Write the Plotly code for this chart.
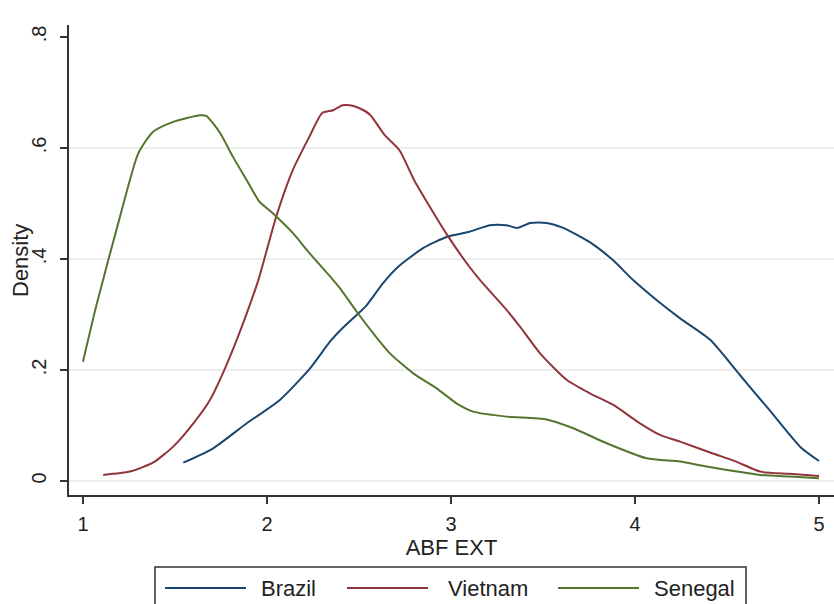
import plotly.graph_objects as go

# Kernel density estimates of ABF EXT by country
brazil_x = [1.545, 1.708, 1.89, 2.07, 2.234, 2.342, 2.40, 2.487, 2.54, 2.63, 2.71, 2.85,
            2.98, 3.10, 3.21, 3.30, 3.36, 3.43, 3.52, 3.61, 3.76, 3.88, 3.99, 4.117,
            4.245, 4.41, 4.57, 4.73, 4.90, 5.0]
brazil_y = [0.033, 0.059, 0.104, 0.146, 0.203, 0.251, 0.272, 0.299, 0.316, 0.356, 0.385, 0.42,
            0.44, 0.449, 0.461, 0.461, 0.456, 0.465, 0.465, 0.456, 0.429, 0.398, 0.362, 0.326,
            0.293, 0.254, 0.191, 0.128, 0.061, 0.036]

vietnam_x = [1.11, 1.255, 1.38, 1.49, 1.60, 1.69, 1.76, 1.835, 1.89, 1.953, 2.05, 2.14,
             2.23, 2.30, 2.36, 2.41, 2.45, 2.50, 2.56, 2.64, 2.72, 2.80, 2.98, 3.10,
             3.158, 3.303, 3.375, 3.484, 3.63, 3.755, 3.882, 4.027, 4.136, 4.245, 4.42,
             4.55, 4.68, 4.84, 5.0]
vietnam_y = [0.011, 0.017, 0.033, 0.062, 0.104, 0.146, 0.194, 0.254, 0.302, 0.362, 0.476, 0.56,
             0.62, 0.663, 0.668, 0.677, 0.677, 0.672, 0.66, 0.623, 0.596, 0.542, 0.443, 0.386,
             0.362, 0.308, 0.278, 0.230, 0.182, 0.158, 0.137, 0.104, 0.083, 0.071, 0.05,
             0.035, 0.017, 0.013, 0.009]

senegal_x = [1.0, 1.074, 1.20, 1.30, 1.38, 1.49, 1.565, 1.636, 1.67, 1.745, 1.815,
             1.89, 1.96, 2.03, 2.14, 2.23, 2.36, 2.397, 2.488, 2.578, 2.668, 2.795, 2.922,
             3.03, 3.121, 3.303, 3.52, 3.665, 3.846, 4.063, 4.245, 4.39, 4.68, 4.84, 5.0]
senegal_y = [0.215, 0.318, 0.475, 0.59, 0.629, 0.647, 0.654, 0.659, 0.658, 0.627, 0.584,
             0.542, 0.503, 0.483, 0.447, 0.411, 0.362, 0.347, 0.305, 0.266, 0.230, 0.194, 0.167,
             0.140, 0.125, 0.116, 0.111, 0.095, 0.068, 0.041, 0.035, 0.026, 0.011, 0.008, 0.005]

series_names = ["Brazil", "Vietnam", "Senegal"]
series_x = [brazil_x, vietnam_x, senegal_x]
series_y = [brazil_y, vietnam_y, senegal_y]
series_colors = ["#1a476f", "#90353b", "#55752f"]

x_ticks = [1, 2, 3, 4, 5]
y_ticks = [0, 0.2, 0.4, 0.6, 0.8]
y_ticktext = ["0", ".2", ".4", ".6", ".8"]
grid_levels = [0, 0.2, 0.4, 0.6]

W, H = 834, 604
ML, MR, MT, MB = 69, 0, 25, 109
FONT = "Liberation Sans, Arial, sans-serif"
INK = "#222222"
AXIS = "#333333"

fig = go.Figure()
for name, xs, ys, col in zip(series_names, series_x, series_y, series_colors):
    fig.add_trace(go.Scatter(x=xs, y=ys, mode="lines", name=name,
                             line=dict(color=col, width=2, shape="spline", smoothing=0.6),
                             showlegend=False))

# light horizontal grid
shapes = []
for g in grid_levels:
    shapes.append(dict(type="line", xref="paper", x0=0, x1=1, yref="y", y0=g, y1=g,
                       line=dict(color="#e8e8e8", width=1.3), layer="below"))

pw, ph = W - ML - MR, H - MT - MB


def px(xpix):
    return (xpix - ML) / pw


def py(ypix):
    return (H - MB - ypix) / ph


annotations = []

# vertical axis title
annotations.append(dict(xref="paper", yref="paper", x=px(20), y=py(261), text="Density",
                        textangle=-90, showarrow=False, xanchor="center", yanchor="middle",
                        font=dict(family=FONT, size=22, color=INK)))

# legend box below the plot
shapes.append(dict(type="rect", xref="paper", yref="paper",
                   x0=px(155), x1=px(746), y0=py(625), y1=py(567),
                   line=dict(color=AXIS, width=1.5), fillcolor="white"))

line_starts = [165, 347, 558]
text_starts = [259, 446, 652]
leg_y = 588
for name, col, ls, ts in zip(series_names, series_colors, line_starts, text_starts):
    shapes.append(dict(type="line", xref="paper", yref="paper",
                       x0=px(ls), x1=px(ls + 81), y0=py(leg_y), y1=py(leg_y),
                       line=dict(color=col, width=2)))
    annotations.append(dict(xref="paper", yref="paper", x=px(ts), y=py(leg_y),
                            text=name, showarrow=False, xanchor="left", yanchor="middle",
                            font=dict(family=FONT, size=22, color=INK)))

fig.update_layout(
    width=W, height=H,
    margin=dict(l=ML, r=MR, t=MT, b=MB, pad=0),
    paper_bgcolor="white", plot_bgcolor="white",
    font=dict(family=FONT, color=INK),
    shapes=shapes, annotations=annotations,
    xaxis=dict(range=[0.924, 5.0815], tickvals=x_ticks, ticks="outside", ticklen=7,
               tickwidth=1.5, tickcolor=AXIS, showline=True, linecolor=AXIS, linewidth=1.5,
               showgrid=False, zeroline=False, tickfont=dict(size=20, color=INK),
               ticklabelstandoff=3,
               title=dict(text="ABF EXT", font=dict(size=22, color=INK), standoff=0)),
    yaxis=dict(range=[-0.0252, 0.8216], tickvals=y_ticks, ticktext=y_ticktext,
               tickangle=-90, ticks="outside", ticklen=7, tickwidth=1.5, tickcolor=AXIS,
               showline=True, linecolor=AXIS, linewidth=1.5, showgrid=False, zeroline=False,
               tickfont=dict(size=20, color=INK), ticklabelstandoff=6),
)

fig.write_html("out.html")
